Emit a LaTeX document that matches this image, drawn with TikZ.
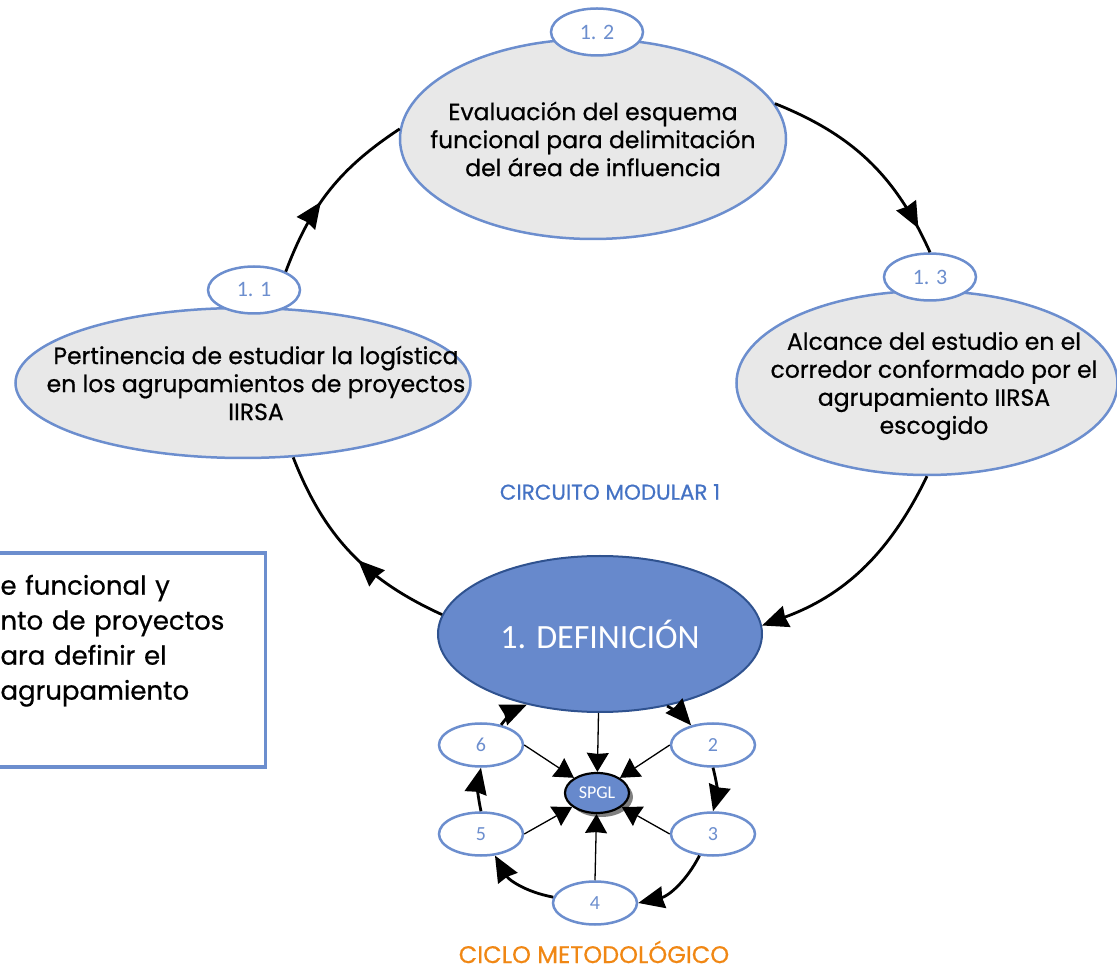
\documentclass[tikz,border=0pt]{standalone}
\usepackage{fontspec}
\usepackage{tikz}
\usetikzlibrary{shapes, arrows.meta, decorations.markings, positioning, shadows}
\newfontfamily\gothic{Poppins}[FakeBold=0.6]
\newfontfamily\calib{Carlito}
\definecolor{lineblue}{RGB}{108,142,206}
\definecolor{stagegray}{RGB}{232,232,232}
\definecolor{corefill}{RGB}{103,137,204}
\definecolor{coreedge}{RGB}{47,82,143}
\definecolor{titleblue}{RGB}{68,114,196}
\definecolor{cycleorange}{RGB}{240,135,20}
\tikzstyle{stage} = [ellipse, draw=lineblue, line width=2.5pt, fill=stagegray, inner sep=0pt]
\tikzstyle{stagetext} = [align=center, font=\gothic\fontsize{23.5}{28}\selectfont]
\tikzstyle{tagnode} = [ellipse, draw=lineblue, line width=2.5pt, fill=white, minimum width=92pt, minimum height=47pt, inner sep=0pt, text=lineblue, font=\calib\fontsize{22}{22}\selectfont]
\tikzstyle{numnode} = [ellipse, draw=lineblue, line width=2.5pt, fill=white, minimum width=84pt, minimum height=43pt, inner sep=0pt, text=lineblue, font=\calib\fontsize{20}{20}\selectfont]
\tikzstyle{core} = [ellipse, draw=coreedge, line width=2pt, fill=corefill, minimum width=324pt, minimum height=156pt, text=white, font=\calib\fontsize{34}{34}\selectfont]
\tikzstyle{hub} = [ellipse, draw=black, line width=2.2pt, fill=corefill, minimum width=64pt, minimum height=40pt, inner sep=0pt, text=white, font=\calib\fontsize{18}{18}\selectfont, drop shadow={shadow xshift=4pt, shadow yshift=-4pt, fill=black!50, opacity=1}]
\tikzstyle{notebox} = [rectangle, draw=lineblue, line width=3.5pt, text width=225pt, inner xsep=40pt, minimum height=214pt, align=left, font=\gothic\fontsize{26}{35}\selectfont]
\tikzstyle{cyc} = [line width=2.8pt, -{Stealth[length=26pt, width=22pt, inset=1.5pt]}]
\tikzstyle{spoke} = [line width=1.3pt, -{Stealth[length=19pt, width=22pt, inset=1pt]}]
\tikzset{midarrow/.style={line width=2.8pt, postaction={decorate}, decoration={markings, mark=at position #1 with {\arrow{Stealth[length=26pt, width=22pt, inset=1.5pt]}}}}}

\begin{document}
\begin{tikzpicture}[x=1pt, y=1pt, node distance=100pt]
\clip (-600,-338) rectangle (517,634);
\node (def) [core] {1. DEFINICIÓN};
\node (top) [stage, above of=def, xshift=-7pt, yshift=395pt, minimum width=386pt, minimum height=200pt] {};
\node (toptext) [stagetext] at (top) {Evaluación del esquema\\funcional para delimitación\\del área de influencia};
\node (lab12) [tagnode, above of=top, xshift=4pt, yshift=7pt] {1. 2};
\node (left) [stage, above of=def, xshift=-357pt, yshift=151pt, minimum width=455pt, minimum height=150pt] {};
\node (lefttext) [stagetext, right of=left, xshift=-87pt] {Pertinencia de estudiar la logística\\en los agrupamientos de proyectos\\IIRSA};
\node (lab11) [tagnode, above of=left, xshift=11pt, yshift=-7pt] {1. 1};
\node (right) [stage, above of=def, xshift=327pt, yshift=151pt, minimum width=381pt, minimum height=184pt] {};
\node (righttext) [stagetext, right of=right, xshift=-93pt, yshift=-3pt] {Alcance del estudio en el\\corredor conformado por el\\agrupamiento IIRSA\\escogido};
\node (lab13) [tagnode, above of=right, xshift=3pt, yshift=6pt] {1. 3};
\node (circuito) [above of=def, xshift=10pt, yshift=42pt, text=titleblue, font=\gothic\fontsize{21.5}{21.5}\selectfont] {CIRCUITO MODULAR 1};
\node (note) [notebox, left of=def, xshift=-387pt, yshift=-26pt] {e funcional y\\nto de proyectos\\ara definir el\\agrupamiento\\\strut};
\node (spgl) [hub, below of=def, xshift=-3pt, yshift=-59pt] {SPGL};
\node (n6) [numnode, below of=def, xshift=-119pt, yshift=-11pt] {6};
\node (n2) [numnode, below of=def, xshift=113pt, yshift=-11pt] {2};
\node (n5) [numnode, below of=n6, yshift=11pt] {5};
\node (n3) [numnode, below of=n2, yshift=11pt] {3};
\node (n4) [numnode, below of=def, xshift=-5pt, yshift=-169pt] {4};
\node (ciclo) [below of=n4, xshift=-1pt, yshift=51pt, text=cycleorange, font=\gothic\fontsize{24}{24}\selectfont] {CICLO METODOLÓGICO};
\draw [midarrow=0.45] (def.173) to[bend left=22] (left.-56);
\draw [midarrow=0.42] (lab11.30) to[bend left=18] (top.177);
\draw [midarrow=0.88] (top.11) to[bend left=22] (lab13.north);
\draw [cyc] (right.south) to[bend left=22] (def.3);
\draw [cyc] (def.-47) to[bend left=10] (n2.138);
\draw [cyc] (n2.south) to[bend left=15] (n3.north);
\draw [cyc] (n3.-122) to[bend left=25] (n4.east);
\draw [cyc] (n4.172) to[bend left=25] (n5.-57);
\draw [cyc] (n5.north) to[bend left=12] (n6.south);
\draw [cyc] (n6.45) to[bend left=15] (def.-136);
\draw [spoke] (def) -- (spgl);
\draw [spoke] (n6.east) -- (spgl);
\draw [spoke] (n2.west) -- (spgl);
\draw [spoke] (n5.east) -- (spgl);
\draw [spoke] (n3.west) -- (spgl);
\draw [spoke] (n4.north) -- (spgl);
\end{tikzpicture}
\end{document}
